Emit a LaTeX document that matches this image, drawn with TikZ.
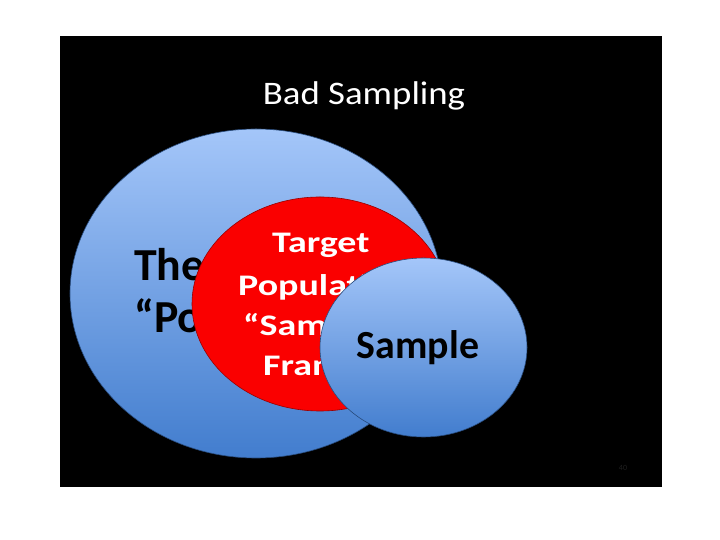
\documentclass[tikz,border=0pt]{standalone}
\usepackage{fontspec}
\setmainfont{Carlito}
\newfontfamily\framefont[FakeStretch=1.27]{Carlito}
\newfontfamily\headfont[FakeStretch=1.12]{Carlito}
\usepackage{xcolor}
\usetikzlibrary{shapes.geometric}

\definecolor{skytop}{RGB}{164,198,249}
\definecolor{skybot}{RGB}{66,125,206}
\definecolor{framered}{RGB}{250,0,0}

\begin{document}
\begin{tikzpicture}[
    x=1bp, y=1bp,
    bubble/.style={ellipse, draw=skybot!60!black, line width=0.6bp, top color=skytop, bottom color=skybot, inner sep=0pt},
    redbubble/.style={ellipse, draw=red!60!black, line width=0.6bp, fill=framered, inner sep=0pt},
    darklabel/.style={anchor=base west, inner sep=0pt, font=\bfseries\fontsize{46}{50}\selectfont, text=black},
    redlabel/.style={anchor=base west, inner sep=0pt, font=\framefont\bfseries\fontsize{30}{36}\selectfont, text=white},
    title/.style={anchor=base, inner sep=0pt, font=\headfont\fontsize{33}{40}\selectfont, text=white}
]

% Page and slide
\fill[white] (0,0) rectangle (720,540);
\useasboundingbox (0,0) rectangle (720,540);
\fill[black] (60,53) rectangle (662,504);

% Title
\node[title] (heading) at (364,435) {Bad Sampling};

% The population
\node[bubble, minimum width=372bp, minimum height=329bp] (population) at (256,246.5) {};
\node[darklabel] (popline1) at (134,259) {The};
\node[darklabel] (popline2) at (134,207) {“Po};

% Target population / sampling frame
\node[redbubble, minimum width=256bp, minimum height=214bp] (frame) at (320,236) {};
\node[redlabel] (frameline1) at (272,287) {Target};
\node[redlabel] (frameline2) at (238,244) {Populati};
\node[redlabel] (frameline3) at (243,204) {“Sam};
\node[redlabel] (frameline4) at (263,164) {Fran};

% Sample
\node[bubble, minimum width=207bp, minimum height=179bp] (sample) at (423.5,192.5) {};
\node[anchor=base, inner sep=0pt, font=\bfseries\fontsize{40}{44}\selectfont] (samplelabel) at (418,181) {Sample};

% Slide number
\node[inner sep=0pt, font=\fontsize{8}{9}\selectfont, text=white!12!black] (slideno) at (623,72) {40};

\end{tikzpicture}
\end{document}
